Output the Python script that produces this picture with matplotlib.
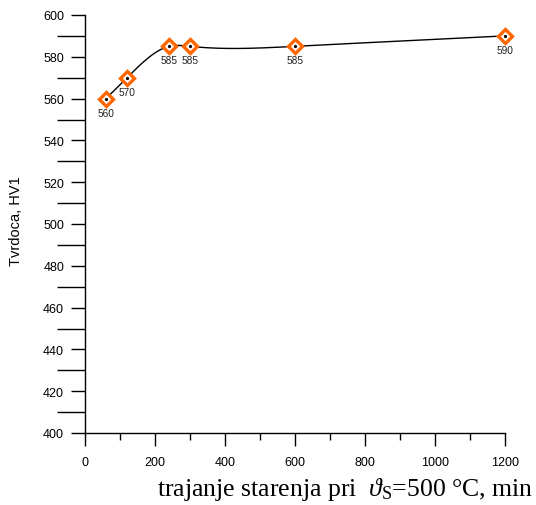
import numpy as np
import matplotlib
matplotlib.use("Agg")
import matplotlib.pyplot as plt
from matplotlib.ticker import MultipleLocator

plt.rcParams['font.family'] = ['Liberation Sans', 'DejaVu Sans']
plt.rcParams['mathtext.fontset'] = 'custom'
plt.rcParams['mathtext.rm'] = 'Liberation Serif'
plt.rcParams['mathtext.it'] = 'Liberation Serif:italic'

time_min = [60, 120, 240, 300, 600, 1200]
hardness = [560, 570, 585, 585, 585, 590]
labels = ['560', '570', '585', '585', '585', '590']


def natural_spline(x, y, xs):
    x = np.asarray(x, float); y = np.asarray(y, float)
    n = len(x)
    h = np.diff(x)
    A = np.zeros((n, n)); b = np.zeros(n)
    A[0, 0] = 1; A[-1, -1] = 1
    for i in range(1, n - 1):
        A[i, i - 1] = h[i - 1]
        A[i, i] = 2 * (h[i - 1] + h[i])
        A[i, i + 1] = h[i]
        b[i] = 3 * ((y[i + 1] - y[i]) / h[i] - (y[i] - y[i - 1]) / h[i - 1])
    c = np.linalg.solve(A, b)
    out = np.empty_like(xs)
    for k, xv in enumerate(xs):
        i = min(max(np.searchsorted(x, xv) - 1, 0), n - 2)
        dx = xv - x[i]
        bi = (y[i + 1] - y[i]) / h[i] - h[i] * (2 * c[i] + c[i + 1]) / 3
        di = (c[i + 1] - c[i]) / (3 * h[i])
        out[k] = y[i] + bi * dx + c[i] * dx ** 2 + di * dx ** 3
    return out


fig = plt.figure(figsize=(5.36, 5.06), dpi=100)
ax = fig.add_axes([85 / 536, 72 / 506, 420 / 536, 418 / 506])

xs = np.linspace(time_min[0], time_min[-1], 600)
ax.plot(xs, natural_spline(time_min, hardness, xs), color='black', lw=1.0, zorder=2)
ax.plot(time_min, hardness, linestyle='none', marker='D', markersize=7.5,
        markerfacecolor='white', markeredgecolor='#FF6600', markeredgewidth=2.4,
        zorder=3, clip_on=False)
ax.plot(time_min, hardness, linestyle='none', marker='o', markersize=1.3,
        color='black', zorder=4, clip_on=False)
for xv, yv, t in zip(time_min, hardness, labels):
    ax.annotate(t, (xv, yv), xytext=(0, -6.5), textcoords='offset points',
                ha='center', va='top', fontsize=7.3, color='#222222')

ax.set_xlim(0, 1200)
ax.set_ylim(400, 600)
ax.xaxis.set_major_locator(MultipleLocator(200))
ax.xaxis.set_minor_locator(MultipleLocator(100))
ax.yaxis.set_major_locator(MultipleLocator(20))
ax.yaxis.set_minor_locator(MultipleLocator(10))
for s in ['top', 'right']:
    ax.spines[s].set_visible(False)
for s in ['left', 'bottom']:
    ax.spines[s].set_linewidth(1.0)
ax.tick_params(axis='y', which='major', length=10, width=1, pad=5, labelsize=9)
ax.tick_params(axis='y', which='minor', length=20, width=1)
ax.tick_params(axis='x', which='major', length=9.5, width=1, pad=7, labelsize=9)
ax.tick_params(axis='x', which='minor', length=5, width=1)

ax.set_ylabel('Tvrdoca, HV1', fontsize=10.5, va='center', ha='center')
ax.yaxis.set_label_coords((16.5 - 85) / 420, 0.51)
ax.set_xlabel(r'trajanje starenja pri  $\mathit{\vartheta}_{\mathrm{S}}$=500 °C, min',
              fontsize=18.5, family='Liberation Serif', ha='right', va='center')
ax.xaxis.set_label_coords((533 - 85) / 420, (16 - 72) / 418)

fig.savefig('out.png', dpi=100)
